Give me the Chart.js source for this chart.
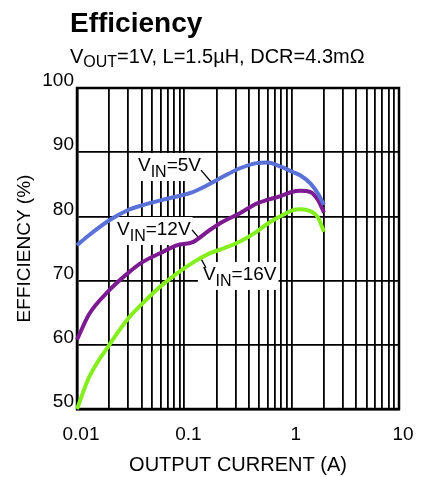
<!DOCTYPE html>
<html>
<head>
<meta charset="utf-8">
<script src="https://cdn.jsdelivr.net/npm/chart.js@4/dist/chart.umd.min.js"></script>
<style>
  html, body { margin: 0; padding: 0; background: #fff; }
  #wrap { position: relative; width: 430px; height: 477px; }
</style>
</head>
<body>
<div id="wrap"><canvas id="chart"></canvas></div>
<script>
const FONT = '"Liberation Sans", Arial, Helvetica, sans-serif';

// output current (A) and efficiency (%) for each input voltage
const currents = [0.01, 0.013, 0.02, 0.03, 0.04, 0.06, 0.085, 0.12, 0.17, 0.23, 0.33, 0.47, 0.6, 0.8, 1.0, 1.2, 1.5, 1.75, 2.0];
const vin5  = [75.5, 77.1, 79.4, 81.0, 81.7, 82.5, 83.1, 83.8, 85.0, 86.2, 87.5, 88.3, 88.4, 87.7, 87.0, 86.4, 85.1, 83.6, 81.8];
const vin12 = [60.8, 64.8, 68.5, 71.2, 72.8, 74.3, 75.5, 76.0, 77.8, 79.2, 80.5, 82.0, 82.6, 83.2, 83.8, 84.0, 83.8, 82.6, 80.6];
const vin16 = [50.0, 55.0, 60.0, 64.1, 66.3, 69.1, 71.1, 72.8, 74.2, 75.0, 76.1, 77.6, 78.9, 80.1, 80.9, 81.1, 80.8, 79.9, 77.6];

const seriesNames = ['5V', '12V', '16V'];
const seriesValues = [vin5, vin12, vin16];
const seriesColors = ['#5a72d8', '#7e1a91', '#84ee1e'];

const xTickValues = [0.01, 0.1, 1, 10];
const xTickLabels = ['0.01', '0.1', '1', '10'];

// curve labels: text start, leader line start and end, in (A, %)
const labelAt    = [[0.037, 87.07], [0.0236, 77.1], [0.149, 70.1]];
const leaderFrom = [[0.143, 87.2], [0.118, 77.9], [0.159, 72.0]];
const leaderTo   = [[0.181, 85.2], [0.134, 76.8], [0.140, 73.7]];

// every 1..9 step of each decade gets a grid line
const gridValues = [];
[0.01, 0.1, 1].forEach(d => {
  for (let k = 1; k <= 9; k++) gridValues.push(Number((k * d).toPrecision(3)));
});
gridValues.push(10);

function runWidth(ctx, parts) {
  let w = 0;
  parts.forEach(([t, size]) => {
    ctx.font = `${size}px ${FONT}`;
    w += ctx.measureText(t).width;
  });
  return w;
}

function drawRun(ctx, x, y, parts) {
  parts.forEach(([t, size, dy]) => {
    ctx.font = `${size}px ${FONT}`;
    ctx.fillText(t, x, y + dy);
    x += ctx.measureText(t).width;
  });
}

const annotations = {
  id: 'annotations',
  beforeDatasetsDraw(chart) {
    const { ctx, chartArea: a, scales: { x, y } } = chart;
    ctx.save();

    // frame
    ctx.strokeStyle = '#000';
    ctx.lineWidth = 2.5;
    ctx.strokeRect(a.left, a.top, a.right - a.left, a.bottom - a.top);

    ctx.textAlign = 'left';
    ctx.textBaseline = 'alphabetic';
    seriesNames.forEach((name, i) => {
      const parts = [['V', 19, 0], ['IN', 16, 6], ['=' + name, 19, 0]];
      const tx = x.getPixelForValue(labelAt[i][0]);
      const ty = y.getPixelForValue(labelAt[i][1]);
      const w = runWidth(ctx, parts);
      ctx.fillStyle = '#fff';
      ctx.fillRect(tx - 5, ty - 18, w + 7, 28);
      ctx.fillStyle = '#000';
      drawRun(ctx, tx, ty, parts);

      ctx.strokeStyle = '#000';
      ctx.lineWidth = 1.3;
      ctx.beginPath();
      ctx.moveTo(x.getPixelForValue(leaderFrom[i][0]), y.getPixelForValue(leaderFrom[i][1]));
      ctx.lineTo(x.getPixelForValue(leaderTo[i][0]), y.getPixelForValue(leaderTo[i][1]));
      ctx.stroke();
    });
    ctx.restore();
  },
  afterDraw(chart) {
    const { ctx } = chart;
    ctx.save();
    ctx.fillStyle = '#000';
    ctx.textAlign = 'left';
    ctx.textBaseline = 'alphabetic';
    ctx.font = `bold 28px ${FONT}`;
    ctx.fillText('Efficiency', 70, 32);
    drawRun(ctx, 70, 63, [['V', 20, 0], ['OUT', 16, 4], ['=1V, L=1.5µH, DCR=4.3mΩ', 20, 0]]);
    ctx.restore();
  }
};

Chart.defaults.font.family = FONT;
Chart.defaults.color = '#000';

new Chart(document.getElementById('chart'), {
  type: 'line',
  data: {
    datasets: seriesNames.map((name, i) => ({
      label: 'VIN=' + name,
      data: currents.map((c, j) => ({ x: c, y: seriesValues[i][j] })),
      borderColor: seriesColors[i],
      borderWidth: 4,
      pointRadius: 0,
      cubicInterpolationMode: 'monotone',
      clip: false
    }))
  },
  options: {
    responsive: true,
    maintainAspectRatio: false,
    animation: false,
    layout: { padding: { top: 88, right: 31, bottom: 0, left: 0 } },
    plugins: { legend: { display: false }, tooltip: { enabled: false } },
    scales: {
      x: {
        type: 'logarithmic',
        min: 0.01,
        max: 10,
        afterBuildTicks: scale => { scale.ticks = gridValues.map(v => ({ value: v })); },
        afterFit: scale => { scale.height = 68; },
        grid: { color: '#000', lineWidth: 1.8, drawTicks: false },
        border: { color: '#000', width: 2.5 },
        ticks: {
          autoSkip: false,
          maxRotation: 0,
          padding: 14,
          labelOffset: 4,
          font: { size: 19 },
          callback: v => {
            const i = xTickValues.indexOf(v);
            return i >= 0 ? xTickLabels[i] : '';
          }
        },
        title: {
          display: true,
          text: 'OUTPUT CURRENT (A)',
          font: { size: 20 },
          padding: { top: 4, bottom: 0 }
        }
      },
      y: {
        min: 50,
        max: 100,
        afterFit: scale => { scale.width = 77; },
        grid: { color: '#000', lineWidth: 1.8, drawTicks: false },
        border: { color: '#000', width: 2.5 },
        ticks: { stepSize: 10, padding: 3, labelOffset: -7, font: { size: 19 } },
        title: {
          display: true,
          text: 'EFFICIENCY (%)',
          font: { size: 19 },
          padding: { top: 13, bottom: 4 }
        }
      }
    }
  },
  plugins: [annotations]
});
</script>
</body>
</html>
